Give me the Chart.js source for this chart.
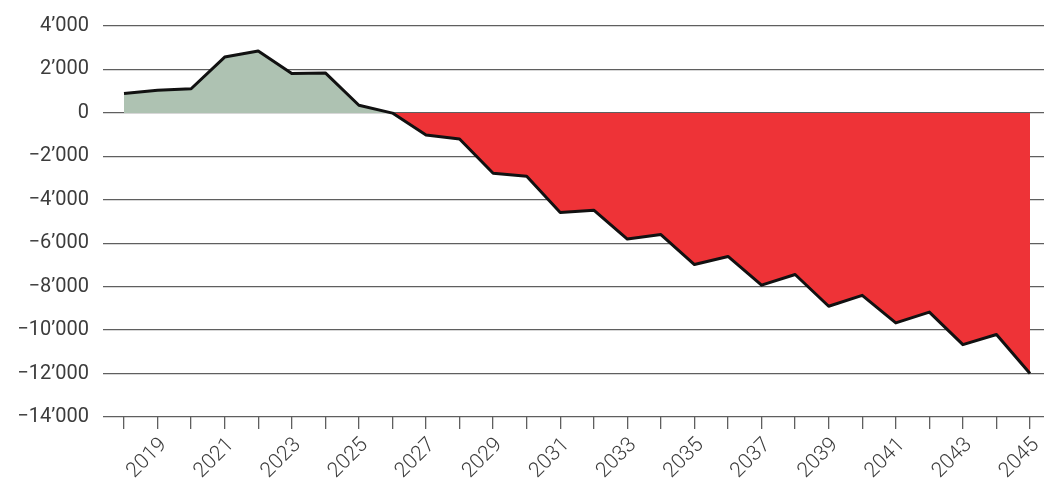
<!DOCTYPE html>
<html>
<head>
<meta charset="utf-8">
<script src="https://cdn.jsdelivr.net/npm/chart.js@4/dist/chart.umd.min.js"></script>
<style>
  html, body { margin: 0; padding: 0; background: #fff; }
  #wrap { width: 1044px; height: 485px; }
</style>
</head>
<body>
<div id="wrap"><canvas id="balanceChart"></canvas></div>
<script>
const years = [2018, 2019, 2020, 2021, 2022, 2023, 2024, 2025, 2026, 2027, 2028, 2029, 2030, 2031,
  2032, 2033, 2034, 2035, 2036, 2037, 2038, 2039, 2040, 2041, 2042, 2043, 2044, 2045];
const balance = [890, 1040, 1110, 2570, 2850, 1810, 1840, 350, -10, -1020, -1200, -2780, -2920, -4590,
  -4480, -5810, -5600, -6980, -6610, -7930, -7440, -8900, -8400, -9670, -9170, -10670, -10200, -12000];
const yTicks = [4000, 2000, 0, -2000, -4000, -6000, -8000, -10000, -12000, -14000];

// 4'000 / −2'000 style labels
function fmt(v) {
  const s = Math.abs(v).toString().replace(/\B(?=(\d{3})+(?!\d))/g, '\u2019');
  return (v < 0 ? '\u2212' : '') + s;
}

const gridColor = '#5f5f5f';

new Chart(document.getElementById('balanceChart'), {
  type: 'line',
  data: {
    datasets: [{
      label: 'Saldo',
      data: years.map((y, i) => ({ x: y, y: balance[i] })),
      borderColor: '#111',
      borderWidth: 3,
      pointRadius: 0,
      tension: 0,
      borderJoinStyle: 'round',
      fill: { target: { value: 0 }, above: '#aec2b2', below: '#ee3337' }
    }]
  },
  options: {
    responsive: true,
    maintainAspectRatio: false,
    animation: false,
    layout: { padding: { top: 25, right: 0, left: 0, bottom: 0 } },
    plugins: { legend: { display: false }, tooltip: { enabled: false } },
    scales: {
      x: {
        type: 'linear',
        min: 2017.374,
        max: 2045.417,
        afterBuildTicks: s => { s.ticks = years.map(v => ({ value: v })); },
        afterFit: s => { s.height = 68; s.paddingLeft = 0; s.paddingRight = 0; },
        border: { display: false },
        grid: { drawOnChartArea: false, drawTicks: true, tickLength: 12, color: gridColor, lineWidth: 1.3 },
        ticks: {
          autoSkip: false,
          maxRotation: 45,
          minRotation: 45,
          padding: 4,
          labelOffset: 6,
          color: '#3c3c3c',
          font: { family: 'Roboto', size: 21, weight: 300 },
          callback: v => (v % 2 === 1 ? String(v) : '')
        }
      },
      y: {
        min: yTicks[yTicks.length - 1],
        max: yTicks[0],
        afterBuildTicks: s => { s.ticks = yTicks.map(v => ({ value: v })); },
        afterFit: s => { s.width = 103; },
        border: { display: false },
        grid: { drawTicks: false, color: gridColor, lineWidth: 1.3 },
        ticks: {
          padding: 14,
          color: '#3c3c3c',
          font: { family: 'Roboto', size: 20 },
          callback: v => fmt(v)
        }
      }
    }
  }
});
</script>
</body>
</html>
